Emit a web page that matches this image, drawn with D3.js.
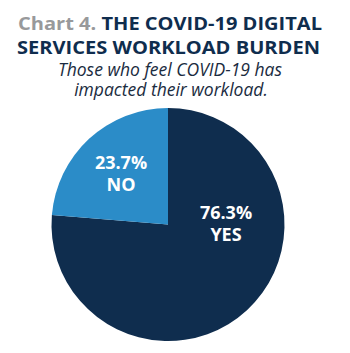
<!DOCTYPE html>
<html>
<head>
<meta charset="utf-8">
<script src="https://cdn.jsdelivr.net/npm/d3@7"></script>
<style>
  body { margin: 0; background: #fff; }
  svg { display: block; font-family: "Open Sans", sans-serif; }
</style>
</head>
<body>
<svg id="chart" width="350" height="353"></svg>
<script>
// data
let categories = ['YES', 'NO'];
let values = [76.3, 23.7];
let colors = ['#0f2d4e', '#2b8cc8'];

let svg = d3.select('#chart');

// title, stretched to the width of the original lines
let title1 = svg.append('text')
  .attr('x', 18)
  .attr('y', 29.5)
  .attr('font-weight', 700)
  .attr('font-size', 17.5)
  .attr('textLength', 304)
  .attr('lengthAdjust', 'spacingAndGlyphs');

title1.append('tspan')
  .attr('fill', '#98999b')
  .text('Chart 4. ');
title1.append('tspan')
  .attr('fill', '#0f2d4e')
  .text('THE COVID-19 DIGITAL');

svg.append('text')
  .attr('x', 17)
  .attr('y', 53.5)
  .attr('font-weight', 700)
  .attr('font-size', 17.5)
  .attr('fill', '#0f2d4e')
  .attr('textLength', 303)
  .attr('lengthAdjust', 'spacingAndGlyphs')
  .text('SERVICES WORKLOAD BURDEN');

// subtitle
let sub = svg.append('text')
  .attr('text-anchor', 'middle')
  .attr('font-style', 'italic')
  .attr('font-size', 17.5)
  .attr('fill', '#1a2b40');

sub.append('tspan').attr('x', 170).attr('y', 76).text('Those who feel COVID-19 has');
sub.append('tspan').attr('x', 171).attr('y', 96).text('impacted their workload.');

// pie
let cx = 168, cy = 224.5, radius = 116.5;

let pie = d3.pie().sort(null);
let arc = d3.arc().innerRadius(0).outerRadius(radius);

let g = svg.append('g').attr('transform', `translate(${cx},${cy})`);

let arcs = pie(values);

g.selectAll('path')
  .data(arcs)
  .join('path')
  .attr('d', arc)
  .attr('fill', (d, i) => colors[i]);

// label anchors relative to the centre (first baseline)
let labelOffset = [[58, -5.5], [-47, -55.5]];

let labels = g.selectAll('g.label')
  .data(arcs)
  .join('g')
  .attr('class', 'label')
  .attr('transform', (d, i) => `translate(${labelOffset[i][0]},${labelOffset[i][1]})`)
  .attr('text-anchor', 'middle')
  .attr('fill', '#fff')
  .attr('font-weight', 700)
  .attr('font-size', 18);

labels.append('text')
  .text((d) => d3.format('.1f')(d.data) + '%');

labels.append('text')
  .attr('y', 22)
  .text((d, i) => categories[i]);
</script>
</body>
</html>
